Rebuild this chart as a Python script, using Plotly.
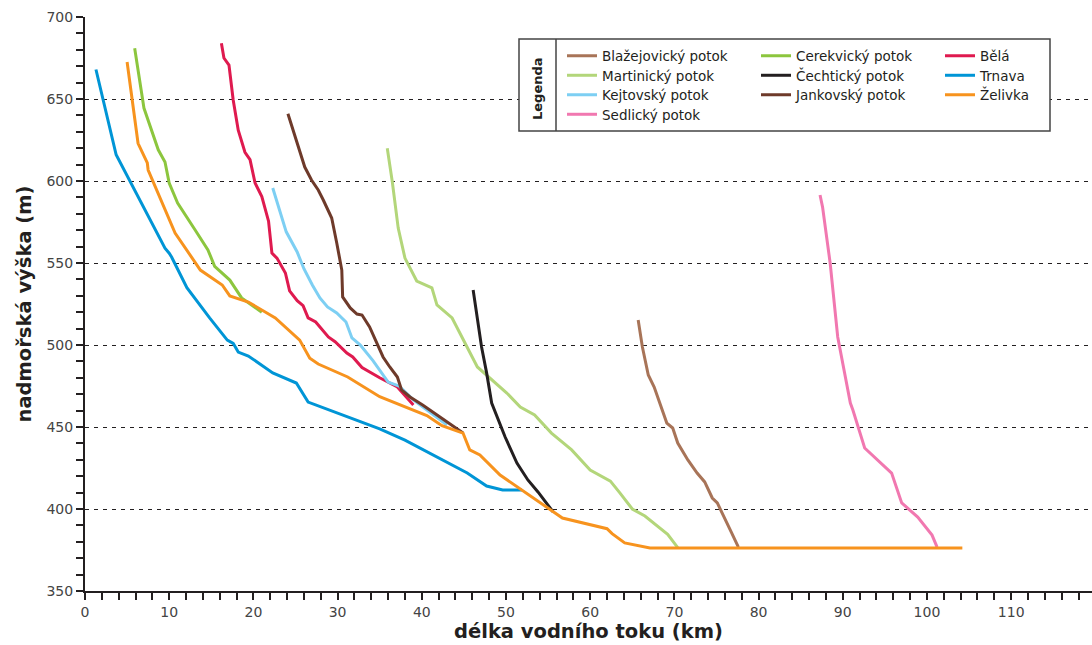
import plotly.graph_objects as go

# Longitudinal stream profiles: distance along the stream (km) vs. elevation (m a.s.l.)
trnava_km = [1.3, 3.7, 9.5, 10.0, 10.3, 12.1, 14.8, 16.9, 17.6, 18.2, 19.4, 22.3, 25.1, 26.5, 35.0, 38.0, 45.4, 47.7, 49.6, 51.9]
trnava_m = [668, 616, 559, 556, 553.5, 535, 516.5, 503, 501, 495.7, 493.3, 483, 476.8, 465.2, 448.8, 442, 422, 414, 411.6, 411.6]

bela_km = [16.2, 16.5, 17.1, 17.6, 18.2, 19.0, 19.6, 20.2, 21.0, 21.8, 22.2, 22.8, 23.8, 24.3, 25.2, 25.9, 26.5, 27.4, 28.9, 29.7, 31.1, 31.8, 32.9, 35.0, 37.1, 38.2, 39.0]
bela_m = [684, 675, 670.7, 649.4, 631, 617.5, 613, 598.8, 590.5, 575.5, 556, 553, 543.9, 533, 527, 524, 516.5, 514, 504.9, 502, 495.1, 492.7, 486.3, 480, 474.4, 468.3, 463.4]

kejtovsky_km = [22.3, 23.9, 25.2, 26.0, 27.0, 27.9, 28.8, 29.9, 31.0, 31.7, 32.7, 34.2, 36.0, 37.3, 39.0, 41.0, 42.2, 43.0]
kejtovsky_m = [595.7, 569, 556.7, 546.5, 536.6, 528.7, 523.2, 519.5, 514, 504.3, 500, 490.5, 477.4, 475, 466.5, 459.1, 454.3, 451.2]

jankovsky_km = [24.1, 25.2, 26.1, 26.9, 27.7, 28.3, 29.3, 29.9, 30.5, 30.6, 31.5, 32.3, 32.9, 33.8, 35.4, 36.2, 37.1, 37.6, 38.6, 40.1, 42.2, 44.9]
jankovsky_m = [641, 623.2, 608.5, 600.6, 594.5, 588.4, 577.4, 562.2, 545.7, 529.3, 522.6, 518.9, 518.3, 511, 492.7, 486.6, 480.5, 472.6, 468.3, 463.4, 456, 446.3]

cerekvicky_km = [5.9, 7.0, 8.7, 9.5, 10.0, 11.0, 13.1, 14.6, 15.4, 17.2, 18.6, 21.0]
cerekvicky_m = [681, 644.5, 619, 611.6, 598.8, 586.6, 570, 558, 548, 539.6, 528.7, 520]

martinicky_km = [35.9, 36.5, 37.2, 38.0, 39.4, 41.2, 41.8, 43.6, 46.6, 50.1, 51.7, 53.4, 55.4, 57.8, 60.0, 62.4, 63.5, 65.0, 66.5, 69.2, 70.4]
martinicky_m = [620, 599.4, 571.3, 553, 539, 534.8, 524.4, 516.5, 486.6, 470.7, 462.2, 457.3, 446.3, 436, 423.8, 417, 410, 400, 395.7, 384.5, 376.5]

cechticky_km = [46.1, 46.6, 47.1, 47.7, 48.3, 49.9, 51.3, 52.6, 53.8, 55.6]
cechticky_m = [533.5, 517, 498.8, 483, 464.6, 443.9, 428, 417.7, 410.4, 398.2]

blazejovicky_km = [65.7, 66.2, 66.9, 67.6, 69.1, 69.8, 70.4, 71.6, 72.7, 73.6, 74.5, 75.1, 76.8, 77.6]
blazejovicky_m = [515.2, 498.8, 481.7, 474.4, 452.4, 449.4, 440.2, 429.9, 421.9, 416.5, 406.7, 403.7, 385.4, 376.8]

sedlicky_km = [87.3, 87.6, 88.5, 89.4, 90.9, 91.2, 92.6, 95.8, 97.0, 98.9, 100.6, 101.2]
sedlicky_m = [591.5, 584.1, 550, 504.9, 464.6, 460.4, 437.2, 421.9, 403.7, 395.1, 384.1, 376.8]

zelivka_km = [5.0, 6.3, 7.4, 7.5, 10.7, 13.7, 16.3, 17.2, 19.4, 22.6, 25.5, 26.7, 27.7, 31.2, 35.0, 40.6, 42.4, 44.9, 45.7, 46.9, 49.3, 51.7, 55.2, 56.7, 62.0, 62.6, 64.1, 67.1, 104.2]
zelivka_m = [672.6, 623, 611, 606.7, 568.3, 545.7, 536.6, 529.9, 526.2, 516.5, 503, 492, 488.4, 480.5, 468.5, 457, 450.8, 446.3, 436, 433, 420.7, 412.2, 399.4, 394.5, 388, 385, 379.3, 376.2, 376.2]

# (name, km, m, colour, legend column, legend row) in drawing order
streams = [
    ("Trnava", trnava_km, trnava_m, "#0095d6", 2, 1),
    ("Bělá", bela_km, bela_m, "#df1a4f", 2, 0),
    ("Kejtovský potok", kejtovsky_km, kejtovsky_m, "#7dcff3", 0, 2),
    ("Jankovský potok", jankovsky_km, jankovsky_m, "#6e3a2a", 1, 2),
    ("Cerekvický potok", cerekvicky_km, cerekvicky_m, "#8cc63e", 1, 0),
    ("Martinický potok", martinicky_km, martinicky_m, "#b3d67a", 0, 1),
    ("Čechtický potok", cechticky_km, cechticky_m, "#231f20", 1, 1),
    ("Blažejovický potok", blazejovicky_km, blazejovicky_m, "#a87458", 0, 0),
    ("Sedlický potok", sedlicky_km, sedlicky_m, "#f178b0", 0, 3),
    ("Želivka", zelivka_km, zelivka_m, "#f7931e", 2, 2),
]

FONT = "DejaVu Sans"
INK = "#231f20"

W, H = 1092, 645
L, R, T, B = 85, 0, 17, 54
pw, ph = W - L - R, H - T - B


def px(x):
    return (x - L) / pw


def py(y):
    return (H - B - y) / ph


# legend grid inside the framed box (pixel positions)
col_left = [562, 756, 940]
row_mid = [56, 75.5, 95, 114.5]

fig = go.Figure()
legends = {}
for i, (name, xs, ys, color, col, row) in enumerate(streams):
    key = "legend" if i == 0 else f"legend{i + 1}"
    fig.add_trace(go.Scatter(
        x=xs, y=ys, name=name, mode="lines",
        line=dict(color=color, width=3),
        legend=key, showlegend=True,
    ))
    legends[key] = dict(
        x=px(col_left[col]), y=py(row_mid[row]),
        xanchor="left", yanchor="middle",
        bgcolor="rgba(0,0,0,0)", borderwidth=0,
        font=dict(family=FONT, size=13.5, color=INK),
        itemwidth=30, visible=True,
    )

fig.update_layout(
    width=W, height=H,
    margin=dict(l=L, r=R, t=T, b=B),
    paper_bgcolor="white", plot_bgcolor="white",
    font=dict(family=FONT, color=INK),
    showlegend=True,
    shapes=[
        dict(type="rect", xref="paper", yref="paper",
             x0=px(519), x1=px(1050), y0=py(131), y1=py(39),
             line=dict(color="#444", width=1.5), fillcolor="white", layer="above"),
        dict(type="line", xref="paper", yref="paper",
             x0=px(556), x1=px(556), y0=py(131), y1=py(39),
             line=dict(color="#444", width=1.5), layer="above"),
    ],
    annotations=[
        dict(text="<b>Legenda</b>", xref="paper", yref="paper",
             x=px(538), y=py(89), xanchor="center", yanchor="middle",
             textangle=-90, showarrow=False,
             font=dict(family=FONT, size=13, color=INK)),
    ],
    **legends,
)

fig.update_xaxes(
    range=[0, 119.6], dtick=10, tick0=0,
    showgrid=False, zeroline=False,
    showline=True, linecolor=INK, linewidth=2,
    ticks="outside", ticklen=7, tickwidth=1.5, tickcolor=INK,
    minor=dict(dtick=2, ticks="outside", ticklen=7, tickwidth=1.5, tickcolor=INK, showgrid=False),
    tickfont=dict(family=FONT, size=14, color="#444"),
    title=dict(text="<b>délka vodního toku (km)</b>", font=dict(family=FONT, size=19.5, color=INK), standoff=5),
)
fig.update_yaxes(
    range=[350, 700], dtick=50, tick0=350,
    showgrid=True, gridcolor=INK, gridwidth=1.2, griddash="4px,5px",
    zeroline=False,
    showline=True, linecolor=INK, linewidth=2,
    ticks="outside", ticklen=7, tickwidth=1.5, tickcolor=INK,
    minor=dict(dtick=10, ticks="outside", ticklen=7, tickwidth=1.5, tickcolor=INK, showgrid=False),
    tickfont=dict(family=FONT, size=14, color="#444"),
    title=dict(text="<b>nadmořská výška (m)</b>", font=dict(family=FONT, size=19.5, color=INK), standoff=10),
)

fig.write_html("out.html")
